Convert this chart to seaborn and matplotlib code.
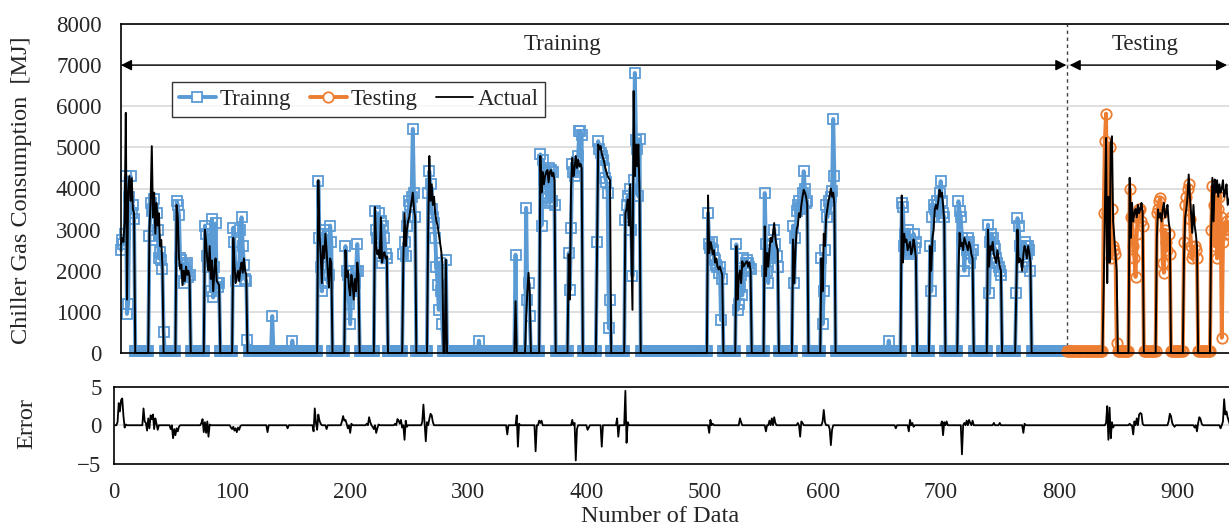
import numpy as np
import pandas as pd
import matplotlib
matplotlib.use("Agg")
import matplotlib.pyplot as plt
from matplotlib.lines import Line2D
import seaborn as sns

# ---------------------------------------------------------------- data
FIRST, LAST = 6, 946          # sample indices shown
TEST_START = 807              # first testing sample

# operating periods: (first index, actual [MJ], predicted [MJ])
train_blocks = [
    (6,   [2650, 2800, 2700, 3200, 5840, 1300, 3900, 4300, 3700, 4250, 3500, 3400],
          [2500, 2750, 2650, 2900, 4300, 950, 1200, 3800, 4300, 3400, 3600, 3250]),
    (30,  [3000, 3700, 5030, 3300, 3900, 2900, 3650, 3100, 3400, 2600, 2750, 2100],
          [2850, 3650, 3450, 3500, 3750, 2750, 3400, 3000, 2300, 2450, 2250, 2050]),
    (53,  [3600, 3300, 2300, 2050, 2150, 1650, 2000, 1750, 2100, 1900, 2000, 1850],
          [3700, 3600, 3350, 2300, 2250, 2000, 1700, 2150, 2000, 2200, 1850, 1900]),
    (77,  [3000, 2700, 2250, 2000, 2600, 1800, 2250, 1500, 2000, 2300, 1750, 1700, 1650],
          [3100, 2900, 2350, 2100, 2900, 1500, 3250, 1350, 2100, 3150, 1700, 1600, 1700]),
    (101, [2800, 2150, 1700, 1850, 2000, 1750, 2050, 2200, 1950, 2300, 2000, 1900],
          [3050, 2700, 1750, 1900, 2100, 2050, 3000, 3300, 2600, 2150, 1800, 1750]),
    (173, [4200, 2900, 2400, 1700, 2600, 2300, 2900, 2500, 2000, 1600, 2300, 2200],
          [4180, 2800, 2100, 1500, 2650, 3000, 2900, 2500, 1700, 1900, 3100, 2700]),
    (196, [2500, 1850, 2000, 1600, 1400, 1900, 1700, 1300, 1800, 1500, 2200, 1900],
          [2600, 2000, 1900, 1200, 700, 1550, 1800, 1500, 1700, 2000, 2650, 2000]),
    (221, [3550, 2600, 2400, 2500, 2300, 3300, 2200, 2400, 2450, 2300, 2350],
          [3450, 3000, 2800, 3400, 2350, 3200, 2200, 3100, 2800, 2400, 2300]),
    (245, [2300, 3400, 2600, 3000, 3200, 3300, 3500, 3700, 3900, 3500, 3300],
          [2400, 2700, 2350, 3100, 3300, 3700, 3600, 3800, 5450, 3900, 3300]),
    (266, [3000, 4790, 3700, 4100, 3600, 3800, 3400, 3200, 3100, 2900, 2700, 2500, 2200],
          [3900, 4420, 4100, 3500, 3300, 3150, 2800, 2100, 1650, 1050, 2200, 1500, 700]),
    (281, [2270], [2250]),
    (340, [1260], [2390]),
    (349, [890, 1500, 1950, 1450], [3530, 1300, 1700, 900]),
    (361, [4790, 3900, 4400, 4100, 4300, 4400, 4450, 4150, 4400, 4450, 4300, 4380, 4200],
          [4830, 3100, 4700, 4200, 4000, 4400, 3800, 4500, 3650, 4450, 3700, 4400, 3600]),
    (385, [2400, 1300, 4000, 4740, 4300, 4500, 4790, 4500, 4700, 4540, 4600, 4500],
          [2430, 1540, 3050, 4600, 4400, 4300, 4500, 4650, 4800, 5390, 5400, 5300]),
    (409, [2400, 5070, 4950, 5030, 4850, 4750, 4650, 4500, 4400, 4300, 4250, 4200],
          [2700, 5150, 4950, 4870, 4800, 4700, 4500, 4250, 4150, 3900, 600, 1300]),
    (433, [3400, 3500, 3730, 3100, 4100, 2600, 1050, 6370, 4300, 5070, 4540, 5070, 3900],
          [3240, 3600, 3810, 3300, 4000, 3000, 1870, 4200, 6810, 5190, 4950, 3810, 5200]),
    (503, [3830, 2430, 2700, 2600, 2400, 2500, 2200, 2300, 2100, 2030, 2100, 2000, 1900],
          [3400, 2640, 2550, 2700, 2500, 2300, 2250, 2150, 2100, 1950, 2100, 800, 1800]),
    (527, [2600, 1300, 1870, 2000, 1700, 2230, 2100, 2150, 2200, 2230, 2100, 2200, 2000],
          [2640, 1050, 1200, 1600, 1900, 1400, 2300, 2000, 2200, 2250, 2200, 2100, 2050]),
    (551, [3080, 1870, 2430, 2100, 2500, 2800, 2700, 2900, 3160, 2800, 2600, 2500],
          [3890, 2640, 2000, 1700, 2400, 2600, 2500, 2300, 3000, 2650, 2350, 2100]),
    (575, [2760, 1700, 2500, 3000, 3100, 3400, 3300, 3600, 3800, 3970, 3900, 3800, 3600],
          [3100, 1700, 2800, 3450, 3600, 3700, 3500, 3550, 3900, 4420, 4000, 3650, 3700]),
    (599, [2300, 1500, 2900, 2600, 3300, 3500, 3700, 3830, 4000, 3800, 3900, 3600],
          [2300, 700, 1500, 2500, 3600, 3300, 3700, 3500, 3800, 3950, 5690, 4300]),
    (667, [3830, 2200, 2900, 2700, 2760, 2500, 2600, 2700, 2400, 2500, 2760, 2600, 2300],
          [3650, 3550, 2600, 2900, 2750, 3000, 2600, 2400, 2500, 2450, 2900, 2550, 2700]),
    (691, [2600, 2000, 2800, 3000, 3500, 3600, 3500, 3700, 3970, 3800, 3900, 3600, 3200],
          [2600, 1500, 3300, 3600, 3500, 3450, 3700, 3600, 3900, 4180, 3700, 3400, 3300]),
    (715, [2000, 2920, 2600, 2680, 2500, 2800, 2700, 2600, 2500, 2700, 2600, 2400, 2300],
          [3690, 3450, 3300, 2800, 2700, 2000, 2650, 2500, 2800, 2700, 2200, 2400, 2500]),
    (740, [3000, 2100, 2600, 2500, 2700, 2400, 2300, 2190, 2500, 2300, 2100, 2000],
          [3120, 1450, 2700, 2900, 2800, 2600, 2540, 2300, 2200, 2100, 2000, 1900]),
    (764, [1500, 3000, 2200, 2300, 2250, 2000, 2400, 2600, 2500, 2300, 2600, 2450, 2200],
          [1450, 3280, 3080, 2600, 2400, 2100, 2500, 2700, 2600, 2400, 2600, 2500, 2000]),
]

test_blocks = [
    (838, [1600, 3500, 5230, 1700, 3800, 2200, 5100, 5270, 3200, 2800, 2400, 2000],
          [3400, 5150, 5820, 3400, 3300, 5000, 2300, 3500, 2600, 2500, 2400, 250]),
    (860, [4260, 2800, 3650, 3200, 3400, 3500, 3300, 3600, 3400, 3500, 3650, 3400],
          [4000, 3300, 3300, 2600, 2300, 1850, 2900, 3400, 3500, 3500, 3200, 3100]),
    (883, [2800, 3490, 3300, 3400, 3200, 3500, 3650, 3300, 3400, 3600, 3200, 3000],
          [3400, 3500, 3700, 3770, 3400, 2200, 1950, 3000, 2700, 2500, 2900, 2400]),
    (906, [2300, 3300, 3500, 3800, 4340, 3800, 3400, 2920, 3600, 3100, 2900, 2600],
          [2700, 3600, 3800, 4000, 4100, 3250, 2600, 2300, 2400, 2600, 2500, 2300]),
    (929, [2900, 4260, 3200, 4220, 3900, 4200, 3800, 4100, 3900, 4000, 4200, 3800,
           3900, 4100, 3600, 3700, 3800, 3900],
          [3000, 4060, 3600, 2600, 3800, 2300, 3500, 3800, 3300, 370, 2700, 3000,
           2900, 3200, 3100, 3000, 3200, 3300]),
]

# isolated predicted values while the chiller is off
pred_bumps = [(42, 520), (113, 320), (134, 900), (151, 300), (309, 300), (656, 300)]
idle_pred_train = 60          # standby prediction [MJ]
idle_pred_test = 50

# normalised prediction error: (index, value), zero elsewhere
error_points = [
    (3, 0.4), (4, 2.9), (5, 1.8), (6, 3.3), (7, 3.5), (8, 1.2), (9, -0.3), (10, 0.1),
    (25, 2.2), (26, 0.5), (27, 0.3), (28, -0.7), (29, 0.9), (30, -0.4), (31, 1.3),
    (32, 0.8), (33, 1.4), (34, -0.5), (35, 0.9), (36, 0.2), (37, -0.6),
    (48, -0.5), (50, -1.7), (51, -0.5), (52, -1.3), (53, -0.4), (54, -0.8), (55, -0.2),
    (74, 0.3), (75, 0.8), (76, -0.9), (77, 0.4), (78, -1.0), (79, 0.5), (80, -1.5), (81, 0.1),
    (99, -0.3), (100, -0.5), (101, -0.2), (102, -0.7), (103, -0.4), (104, -0.9),
    (105, -0.3), (106, -0.6), (107, -0.1),
    (130, -0.9), (147, -0.4),
    (169, -0.8), (170, 2.2), (171, 0.3), (172, -0.6), (173, 1.4), (174, 0.6), (175, 0.2),
    (180, -0.5),
    (193, 0.5), (194, 1.2), (195, 0.6), (196, 0.7), (197, 0.2), (198, -0.4), (200, -1.0), (201, 0.2),
    (214, 0.2), (216, 1.05), (217, 0.4), (219, -0.2), (220, -0.5), (222, -1.0), (223, -0.4), (224, 0.1),
    (238, 0.2), (240, 0.8), (241, 0.6), (242, 0.2), (243, 0.7), (244, -0.3), (246, -1.9),
    (247, 0.6), (248, -0.2),
    (261, 0.4), (262, 2.7), (263, 0.2), (264, -2.1), (265, 0.4), (267, 0.8), (268, 1.5),
    (269, 1.3), (270, 0.4),
    (333, -1.2), (341, 1.3), (342, -2.8), (343, 0.2), (357, -3.4),
    (360, 0.6), (361, 0.3), (362, 0.6),
    (388, 0.7), (390, 0.3), (391, -4.6), (392, -0.5), (401, -0.6), (402, -0.3),
    (413, -2.8), (426, 0.9), (427, -1.5), (433, 4.5), (434, -2.3), (435, 0.4),
    (504, -1.0), (505, 0.7), (507, 0.2), (530, 0.9), (531, 0.4),
    (552, -0.8), (555, 0.6), (557, 0.9), (559, 1.05), (560, 0.3),
    (579, 0.3), (581, -1.5), (582, 0.5), (583, 0.3),
    (600, 0.5), (601, 2.0), (602, 0.4), (606, -0.5), (607, -2.6), (608, -0.6),
    (662, -0.4), (673, -0.8), (674, 0.7), (676, 0.3), (677, -0.2),
    (701, 0.5), (702, -1.3), (703, 0.4), (705, 0.5),
    (718, -3.8), (720, 0.3), (722, 0.6), (724, 0.7), (725, 0.3), (727, 0.6),
    (745, 0.3), (750, 0.3), (770, -1.0), (771, 0.2),
    (840, 0.3), (841, 2.5), (842, -1.9), (843, 2.3), (844, -1.7), (845, 0.4), (846, -0.3),
    (860, 0.2), (863, -1.2), (864, 0.5), (866, 0.9), (868, 1.4), (869, 1.6), (870, 1.5), (871, 0.2),
    (893, 0.5), (894, 1.5), (895, 1.2), (896, 0.3), (898, -0.2),
    (915, -0.3), (917, -0.8), (918, 0.3), (919, 1.05), (920, 0.8), (921, 0.2),
    (937, -0.4), (939, 0.5), (940, 3.4), (941, 1.4), (942, 1.8), (943, 1.0), (944, 0.5),
]

x_ticks = [0, 100, 200, 300, 400, 500, 600, 700, 800, 900]
y_ticks_top = [0, 1000, 2000, 3000, 4000, 5000, 6000, 7000, 8000]
y_ticks_err = [-5, 0, 5]

# ---------------------------------------------------------------- series
idx = np.arange(FIRST, LAST + 1)
actual = np.zeros(idx.size)
pred = np.where(idx < TEST_START, idle_pred_train, idle_pred_test).astype(float)
for start, a, p in train_blocks + test_blocks:
    actual[start - FIRST:start - FIRST + len(a)] = a
    pred[start - FIRST:start - FIRST + len(p)] = p
for i, v in pred_bumps:
    pred[i - FIRST] = v

df = pd.DataFrame({"n": idx, "actual": actual, "pred": pred})
df_train = df[df.n < TEST_START]
df_test = df[df.n >= TEST_START]

err_idx = np.arange(1, LAST + 1)
err = np.zeros(err_idx.size)
for i, v in error_points:
    err[i - 1] = v
df_err = pd.DataFrame({"n": err_idx, "error": err})

# ---------------------------------------------------------------- style
sns.set_style("white")
plt.rcParams["font.family"] = ["Liberation Serif", "DejaVu Serif"]
plt.rcParams["axes.unicode_minus"] = True
FS = 16.5
FS_LABEL = 17.5
BLUE = "#5B9BD5"
ORANGE = "#ED7D31"
GRID = "#D9D9D9"

W, H = 1229, 527
fig = plt.figure(figsize=(W / 100, H / 100), dpi=100)

PX_PER_UNIT = 1.181
X0_PX = 114
XMAX = 960

top_left_x = 5.9
ax = fig.add_axes([(X0_PX + top_left_x * PX_PER_UNIT) / W, (H - 353) / H,
                   (XMAX - top_left_x) * PX_PER_UNIT / W, (353 - 24) / H])
axe = fig.add_axes([X0_PX / W, (H - 463.5) / H,
                    XMAX * PX_PER_UNIT / W, (463.5 - 387) / H])

# ---- top panel
for y in y_ticks_top[1:]:
    ax.axhline(y, color=GRID, lw=1.2, zorder=0)

line_kw = dict(estimator=None, sort=False, legend=False, ax=ax, clip_on=False)
sns.lineplot(data=df_train, x="n", y="pred", color=BLUE, lw=2.8, marker="s",
             markersize=7, markerfacecolor="none", markeredgecolor=BLUE,
             markeredgewidth=1.3, zorder=3, **line_kw)
sns.lineplot(data=df_test, x="n", y="pred", color=ORANGE, lw=2.8, marker="o",
             markersize=7.5, markerfacecolor="none", markeredgecolor=ORANGE,
             markeredgewidth=1.3, zorder=3, **line_kw)
sns.lineplot(data=df, x="n", y="actual", color="black", lw=1.4, zorder=4, **line_kw)

ax.set_xlim(top_left_x, XMAX)
ax.set_ylim(0, 8000)
ax.set_yticks(y_ticks_top)
ax.set_yticklabels([str(v) for v in y_ticks_top], fontsize=FS)
ax.tick_params(axis="y", length=0, pad=14)
ax.set_xticks([])
ax.set_xlabel("")
ax.set_ylabel("")
for s in ["left", "top", "bottom", "right"]:
    ax.spines[s].set_color("black")
    ax.spines[s].set_linewidth(1.2)
    ax.spines[s].set_zorder(5)

split = 806.7
ax.axvline(split, color="#404040", lw=1.0, ls=(0, (2.5, 2.5)), zorder=2)
arrow_kw = dict(arrowstyle="<|-|>", color="black", lw=1.0, mutation_scale=16,
                shrinkA=0, shrinkB=0)
ax.annotate("", xy=(top_left_x, 7000), xytext=(split - 0.3, 7000), arrowprops=arrow_kw,
            annotation_clip=False)
ax.annotate("", xy=(split + 2.5, 7000), xytext=(942.5, 7000), arrowprops=arrow_kw,
            annotation_clip=False)
ax.text(380, 7490, "Training", ha="center", va="center", fontsize=FS)
ax.text(873, 7490, "Testing", ha="center", va="center", fontsize=FS)

handles = [
    Line2D([], [], color=BLUE, lw=2.8, marker="s", markersize=7,
           markerfacecolor="white", markeredgecolor=BLUE, markeredgewidth=1.3),
    Line2D([], [], color=ORANGE, lw=2.8, marker="o", markersize=7.5,
           markerfacecolor="white", markeredgecolor=ORANGE, markeredgewidth=1.3),
    Line2D([], [], color="black", lw=1.3),
]
leg = fig.legend(handles, ["Trainng", "Testing", "Actual"], ncol=3,
                 loc="upper left", bbox_to_anchor=(172 / W, 1 - 82 / H),
                 fontsize=FS, frameon=True, fancybox=False, edgecolor="black",
                 handlelength=1.6, handletextpad=0.2, columnspacing=0.8,
                 borderpad=0.3, borderaxespad=0)
leg.get_frame().set_linewidth(1.0)

# ---- error panel
axe.axhline(0, color=GRID, lw=1.2, zorder=0)
sns.lineplot(data=df_err, x="n", y="error", color="black", lw=1.3,
             estimator=None, sort=False, legend=False, ax=axe)
axe.set_xlim(0, XMAX)
axe.set_ylim(-5, 5)
axe.set_yticks(y_ticks_err)
axe.set_yticklabels(["\u22125", "0", "5"], fontsize=FS)
axe.set_xticks(x_ticks)
axe.set_xticklabels([str(v) for v in x_ticks], fontsize=FS)
axe.tick_params(axis="both", length=0)
axe.tick_params(axis="y", pad=9)
axe.tick_params(axis="x", pad=13)
axe.set_xlabel("")
axe.set_ylabel("")
for s in axe.spines.values():
    s.set_color("black")
    s.set_linewidth(1.2)

fig.text(22 / W, 1 - 190 / H, "Chiller Gas Consumption  [MJ]", rotation=90,
         ha="center", va="center", fontsize=FS_LABEL)
fig.text(27 / W, 1 - 424 / H, "Error", rotation=90, ha="center", va="center",
         fontsize=FS_LABEL)
fig.text(660 / W, 1 - 516 / H, "Number of Data", ha="center", va="center",
         fontsize=FS_LABEL)

fig.savefig("out.png", dpi=100)
